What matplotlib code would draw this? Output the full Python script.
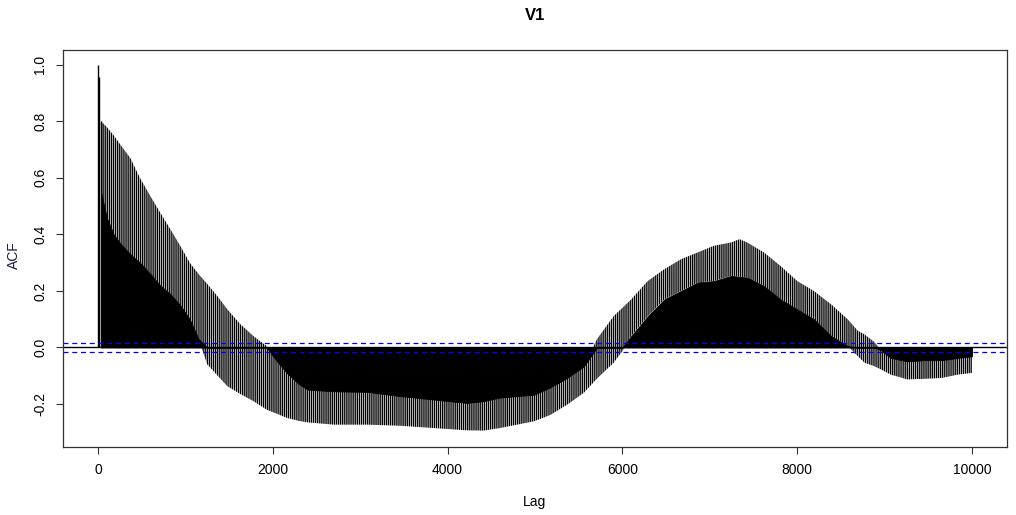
import numpy as np
import matplotlib
matplotlib.use("Agg")
import matplotlib.pyplot as plt

plt.rcParams['font.family'] = ['Liberation Sans', 'DejaVu Sans']
plt.rcParams['hatch.linewidth'] = 1.0
plt.rcParams['hatch.color'] = 'black'

# ---- data ----
spike_lags = [0, 10]
spike_vals = [1.0, 0.955]

env_lags = [35, 100, 180, 250, 370, 480, 600, 710, 825, 940, 1050, 1150, 1250, 1370,
            1480, 1630, 1780, 1930, 2050, 2160, 2300, 2400, 2700, 3080, 3460, 3840,
            4220, 4410, 4600, 4990, 5180, 5370, 5560, 5710, 5900, 6000, 6100, 6290,
            6480, 6670, 6860, 7050, 7240, 7340, 7430, 7620, 7810, 8000, 8190, 8390,
            8580, 8690, 8770, 8880, 8960, 9070, 9260, 9450, 9650, 9840, 10000]
acf_max = [0.80, 0.78, 0.75, 0.72, 0.67, 0.60, 0.535, 0.478, 0.42, 0.36, 0.30, 0.26,
           0.225, 0.18, 0.135, 0.082, 0.04, 0.005, -0.05, -0.09, -0.13, -0.149, -0.155,
           -0.157, -0.172, -0.184, -0.196, -0.19, -0.177, -0.167, -0.14, -0.107, -0.066,
           0.03, 0.111, 0.14, 0.17, 0.235, 0.277, 0.312, 0.336, 0.36, 0.371, 0.383,
           0.371, 0.336, 0.288, 0.235, 0.20, 0.152, 0.099, 0.06, 0.046, 0.02, -0.01,
           -0.037, -0.049, -0.045, -0.045, -0.037, -0.031]
acf_min = [0.55, 0.46, 0.40, 0.37, 0.33, 0.30, 0.26, 0.22, 0.19, 0.15, 0.10, 0.03,
           -0.06, -0.10, -0.137, -0.165, -0.19, -0.22, -0.235, -0.249, -0.26, -0.265,
           -0.273, -0.273, -0.277, -0.285, -0.293, -0.294, -0.285, -0.261, -0.238,
           -0.202, -0.16, -0.11, -0.054, -0.013, 0.04, 0.11, 0.17, 0.20, 0.23, 0.235,
           0.253, 0.25, 0.247, 0.217, 0.17, 0.135, 0.10, 0.04, 0.005, -0.03, -0.054,
           -0.066, -0.078, -0.096, -0.113, -0.111, -0.108, -0.096, -0.09]
ci = 0.0157

x_ticks = [0, 2000, 4000, 6000, 8000, 10000]
y_ticks = [-0.2, 0.0, 0.2, 0.4, 0.6, 0.8, 1.0]
y_labels = ["-0.2", "0.0", "0.2", "0.4", "0.6", "0.8", "1.0"]

# ---- plot ----
fig = plt.figure(figsize=(10.16, 5.15), dpi=100)
ax = fig.add_axes([63/1016, 1 - 447/515, (1007 - 63)/1016, (447 - 50)/515])

L = np.array(env_lags, dtype=float)
hi = np.array(acf_max)
lo = np.array(acf_min)
solid = np.where(lo > 0, lo, np.where(hi < 0, hi, 0.0))

ax.fill_between(L, 0, solid, facecolor='black', edgecolor='black', linewidth=0.6)
ax.fill_between(L, lo, hi, facecolor='none', edgecolor='black', hatch='|' * 8, linewidth=0)
ax.vlines(spike_lags, 0, spike_vals, color='black', linewidth=1.0)
ax.vlines([L[0]], 0, [hi[0]], color='black', linewidth=1.0)

ax.axhline(0, color='black', linewidth=1.0)
ax.axhline(ci, color='#0000ff', linestyle=(0, (4, 3)), linewidth=0.9)
ax.axhline(-ci, color='#0000ff', linestyle=(0, (4, 3)), linewidth=0.9)

ax.set_xlim(-400, 10400)
ax.set_ylim(-0.352, 1.052)

ax.set_xticks(x_ticks)
ax.set_xticklabels([str(t) for t in x_ticks], fontsize=10)
ax.set_yticks(y_ticks)
ax.set_yticklabels(y_labels, fontsize=10, rotation=90, va='center')
ax.tick_params(axis='both', direction='out', length=5.2, width=0.8, color='#333333', pad=6)
for s in ax.spines.values():
    s.set_linewidth(0.9)
    s.set_color('#333333')

fig.text((63 + 1007) / 2 / 1016, 1 - 502/515, "Lag", ha='center', va='center', fontsize=10)
fig.text(14/1016, 1 - 255/515, "ACF", ha='center', va='center', fontsize=10,
         rotation=90, color='#1a1a40')
fig.text((63 + 1007) / 2 / 1016, 1 - 16/515, "V1", ha='center', va='center',
         fontsize=12, fontweight='bold')

fig.savefig("out.png", dpi=100)
